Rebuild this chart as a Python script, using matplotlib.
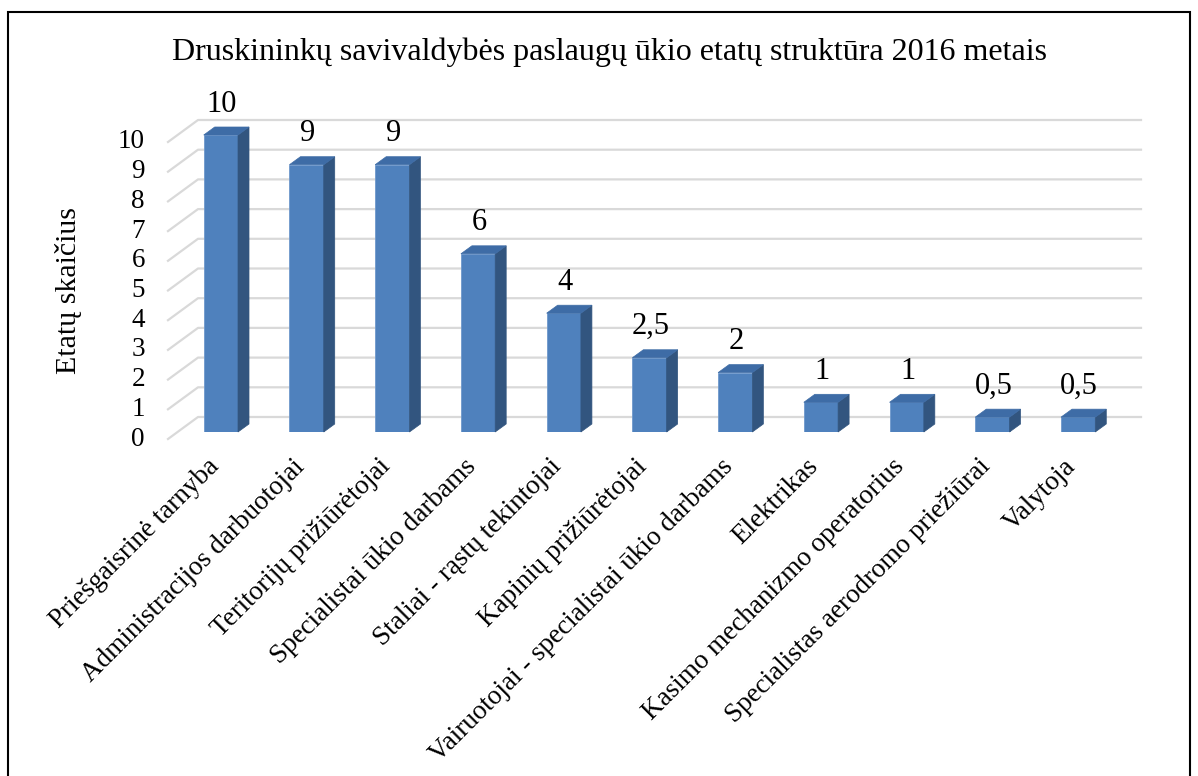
import matplotlib.pyplot as plt
from matplotlib.patches import Polygon, Rectangle
from matplotlib.transforms import offset_copy

plt.rcParams['font.family'] = ['Liberation Serif', 'DejaVu Serif']

title = "Druskininkų savivaldybės paslaugų ūkio etatų struktūra 2016 metais"
y_label = "Etatų skaičius"
categories = [
    "Priešgaisrinė tarnyba",
    "Administracijos darbuotojai",
    "Teritorijų prižiūrėtojai",
    "Specialistai ūkio darbams",
    "Staliai - rąstų tekintojai",
    "Kapinių prižiūrėtojai",
    "Vairuotojai - specialistai ūkio darbams",
    "Elektrikas",
    "Kasimo mechanizmo operatorius",
    "Specialistas aerodromo priežiūrai",
    "Valytoja",
]
values = [10, 9, 9, 6, 4, 2.5, 2, 1, 1, 0.5, 0.5]
value_labels = ["10", "9", "9", "6", "4", "2,5", "2", "1", "1", "0,5", "0,5"]
y_ticks = list(range(0, 11))

FRONT = "#4F81BD"
SIDE = "#32557F"
TOP = "#3E6CA6"
GRID = "#D9D9D9"

W, H = 1198, 776
fig = plt.figure(figsize=(W / 100, H / 100), dpi=100)
ax = fig.add_axes([178 / W, (H - 432) / H, 943 / W, 297 / H])
ax.set_xlim(-0.5, len(values) - 0.5)
ax.set_ylim(0, 10)
for s in ax.spines.values():
    s.set_visible(False)
ax.set_xticks([])
ax.set_yticks([])

# pixel -> data conversion
(x0, y0), (x1, y1) = ax.transData.transform([(0, 0), (1, 1)])
ppx, ppy = x1 - x0, y1 - y0

# back wall gridlines with 3D floor diagonals
fx, fy = -10 / ppx, -7 / ppy
bx, by = 20 / ppx, 15 / ppy
xl, xr = ax.get_xlim()
for v in y_ticks:
    ax.plot([xl + fx, xl + bx, xr + bx], [v + fy, v + by, v + by],
            color=GRID, lw=1.6, zorder=0, clip_on=False)

# y tick labels sit on the front edge of the floor
tick_tr = offset_copy(ax.transData, fig, x=-33, y=-7, units='dots')
for v in y_ticks:
    ax.text(xl, v, str(v), transform=tick_tr, ha='right', va='center', fontsize=19.5)

# bars with depth
w = 0.4
dx, dy = 11 / ppx, 8 / ppy
x = list(range(len(values)))
ax.bar(x, values, width=w, color=FRONT, edgecolor="#6E98CC", linewidth=0.6, zorder=3)
for i, v in zip(x, values):
    r, l = i + w / 2, i - w / 2
    ax.add_patch(Polygon([(r, 0), (r + dx, dy), (r + dx, v + dy), (r, v)],
                         closed=True, fc=SIDE, ec=SIDE, lw=0.5, zorder=3, clip_on=False))
    ax.add_patch(Polygon([(l, v), (r, v), (r + dx, v + dy), (l + dx, v + dy)],
                         closed=True, fc=TOP, ec=TOP, lw=0.5, zorder=3, clip_on=False))

for i, v, lbl in zip(x, values, value_labels):
    ax.annotate(lbl, (i, v), xytext=(1, 31), textcoords='offset pixels',
                ha='center', va='center', fontsize=22)

cat_tr = offset_copy(ax.transData, fig, x=-6, y=-31, units='dots')
for i, c in zip(x, categories):
    ax.text(i, 0, c, transform=cat_tr, rotation=45, ha='right', va='center',
            rotation_mode='anchor', fontsize=19.5)

ax.text((69 - 178) / 943, 0.475, y_label, transform=ax.transAxes, rotation=90,
        ha='center', va='center', fontsize=21.5)

fig.text(610 / W, 1 - 52 / H, title, ha='center', va='center', fontsize=23)

fig.add_artist(Rectangle((8 / W, -0.05), (1190 - 8) / W, (H - 12) / H + 0.05,
                         transform=fig.transFigure, fill=False, ec='black', lw=1.5))

fig.savefig("out.png", dpi=100)
